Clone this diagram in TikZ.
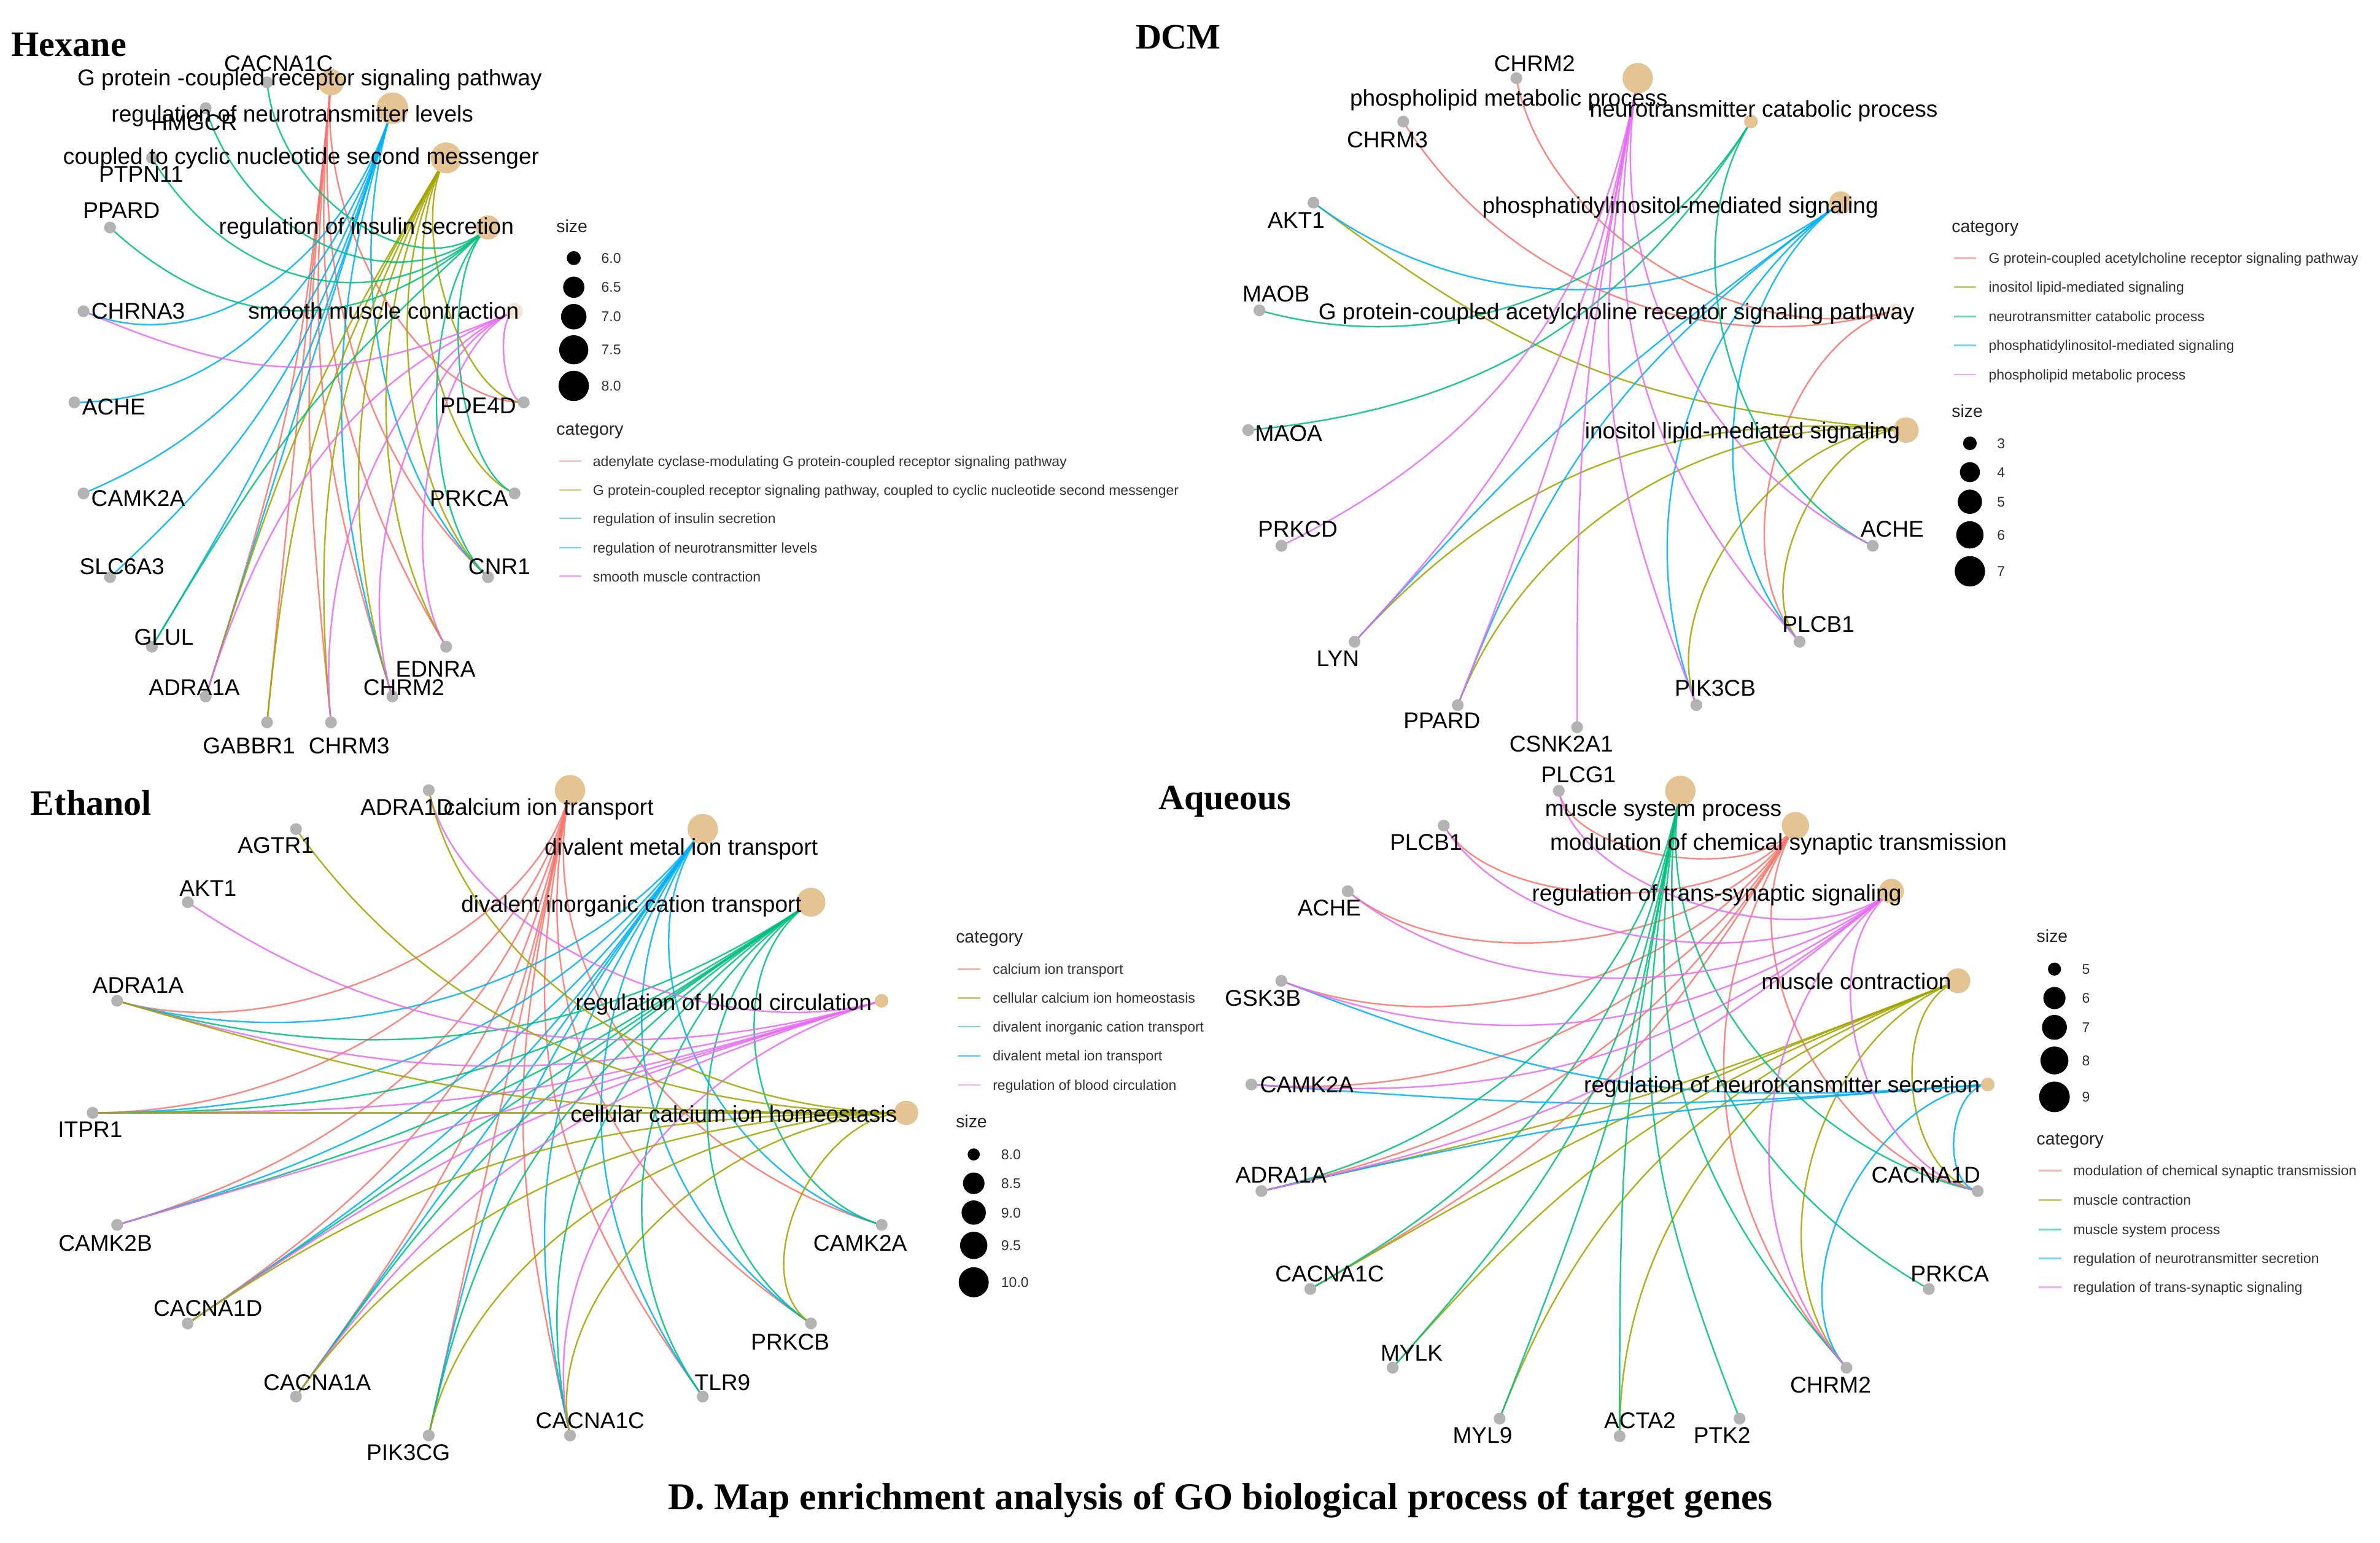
\documentclass[tikz,border=0pt]{standalone}
\usepackage{fontspec}
\setmainfont{Liberation Serif}
\setsansfont{Liberation Sans}
\usetikzlibrary{calc}
\pgfdeclarelayer{base}
\pgfdeclarelayer{bg}
\pgfsetlayers{base,bg,main}
\definecolor{cR}{HTML}{F8766D}
\definecolor{cO}{HTML}{A3A500}
\definecolor{cG}{HTML}{00BF7D}
\definecolor{cB}{HTML}{00B0F6}
\definecolor{cP}{HTML}{E76BF3}
\definecolor{gcol}{HTML}{B3B3B3}
\definecolor{tcol}{HTML}{E5C494}
\newcommand\setpanel[6]{\def\pcx{#1}\def\pcy{#2}\def\prx{#3}\def\pry{#4}\def\poff{#5}\def\pstep{#6}}
\newcommand\gnode[2]{%
  \pgfmathsetmacro\nodeang{\poff+(#2)*\pstep}%
  \expandafter\xdef\csname ang-#1\endcsname{\nodeang}%
  \node[genedot] (#1) at ({\pcx+\prx*cos(\nodeang)},{\pcy+\pry*sin(\nodeang)}) {};}
\newcommand\tnode[4][]{%
  \pgfmathsetmacro\nodeang{\poff+(#3)*\pstep}%
  \expandafter\xdef\csname ang-#2\endcsname{\nodeang}%
  \node[termdot,minimum size={2*#4*1pt},#1] (#2) at ({\pcx+\prx*cos(\nodeang)},{\pcy+\pry*sin(\nodeang)}) {};}
\newcommand\cedge[4]{%
  \edef\cnA{\csname ang-#2\endcsname}%
  \edef\cnB{\csname ang-#3\endcsname}%
  \pgfmathsetmacro\cnD{abs(\cnA-\cnB)}%
  \pgfmathsetmacro\cnK{\cnD>180?(360-\cnD)/180:\cnD/180}%
  \draw[cnline,#4] (#2.center) .. controls ($(#2.center)!\cnK!(#1)$) and ($(#3.center)!\cnK!(#1)$) .. (#3.center);}
\newcommand\glabel[4]{\node[glab] (#1l) at (#2,#3) {#4};}
\tikzset{
 genedot/.style={circle,fill=gcol,draw=none,inner sep=0pt,minimum size=7.8pt},
 termdot/.style={circle,fill=tcol,draw=none,inner sep=0pt},
 paleterm/.style={fill=tcol!40},
 cnline/.style={line width=1pt,opacity=0.85},
 glab/.style={anchor=base,inner sep=0pt,yshift=-5.3pt,font=\sffamily\fontsize{15}{15}\selectfont},
 legtxt/.style={anchor=base west,inner sep=0pt,yshift=-3.3pt,font=\sffamily\fontsize{9.3}{10}\selectfont,text=black!80},
 legtitle/.style={anchor=base west,inner sep=0pt,yshift=-4pt,font=\sffamily\fontsize{11.5}{12}\selectfont,text=black!85},
 legline/.style={line width=1.1pt,opacity=0.55},
 legdot/.style={circle,fill=black,draw=none,inner sep=0pt},
 ptitle/.style={anchor=base west,inner sep=0pt,font=\rmfamily\bfseries\fontsize{23.5}{24}\selectfont},
 btitle/.style={anchor=base,inner sep=0pt,font=\rmfamily\bfseries\fontsize{25}{26}\selectfont},
}
\begin{document}
\begin{tikzpicture}[x=1pt,y=-1pt]
\begin{pgfonlayer}{base}
\path[use as bounding box,fill=white] (0,0) rectangle (1568,1016);
\end{pgfonlayer}

%================ HEXANE =================
\setpanel{197}{265}{148}{213}{0}{360/22}
\coordinate (hc) at (197,265);
\gnode{hPDE4D}{0}\gnode{hPRKCA}{1}\gnode{hCNR1}{2}\gnode{hEDNRA}{3}\gnode{hCHRM2}{4}
\gnode{hCHRM3}{5}\gnode{hGABBR1}{6}\gnode{hADRA1A}{7}\gnode{hGLUL}{8}\gnode{hSLC6A3}{9}
\gnode{hCAMK2A}{10}\gnode{hACHE}{11}\gnode{hCHRNA3}{12}\gnode{hPPARD}{13}\gnode{hPTPN11}{14}
\gnode{hHMGCR}{15}\gnode{hCACNA1C}{16}
\tnode{hAdc}{17}{8.6}\tnode{hNtl}{18}{10.4}\tnode{hCyc}{19}{10.2}\tnode{hIns}{20}{8}\tnode[paleterm]{hSmc}{21}{5.5}
\begin{pgfonlayer}{bg}
\foreach \g in {hADRA1A,hCHRM2,hCHRM3,hCNR1,hEDNRA,hGABBR1,hPDE4D}{\cedge{hc}{hAdc}{\g}{cR}}
\foreach \g in {hACHE,hCAMK2A,hSLC6A3,hGLUL,hCHRNA3,hCNR1,hCHRM2,hADRA1A}{\cedge{hc}{hNtl}{\g}{cB}}
\foreach \g in {hGABBR1,hPDE4D,hPRKCA,hCNR1,hCHRM2,hCHRM3,hADRA1A,hEDNRA}{\cedge{hc}{hCyc}{\g}{cO}}
\foreach \g in {hPPARD,hPTPN11,hHMGCR,hCACNA1C,hCNR1,hPRKCA,hGLUL}{\cedge{hc}{hIns}{\g}{cG}}
\foreach \g in {hCHRNA3,hPDE4D,hEDNRA,hCHRM3,hADRA1A,hCHRM2}{\cedge{hc}{hSmc}{\g}{cP}}
\end{pgfonlayer}
\glabel{hCACNA1C}{183.5}{42}{CACNA1C}
\glabel{hHMGCR}{128}{80.6}{HMGCR}
\glabel{hPTPN11}{93}{114.5}{PTPN11}
\glabel{hPPARD}{80}{138.6}{PPARD}
\glabel{hCHRNA3}{91}{205}{CHRNA3}
\glabel{hACHE}{75}{268}{ACHE}
\glabel{hCAMK2A}{91}{328}{CAMK2A}
\glabel{hSLC6A3}{80.4}{373}{SLC6A3}
\glabel{hGLUL}{108}{419.5}{GLUL}
\glabel{hADRA1A}{128}{452.7}{ADRA1A}
\glabel{hGABBR1}{164}{491}{GABBR1}
\glabel{hCHRM3}{230}{491}{CHRM3}
\glabel{hCHRM2}{266}{452.7}{CHRM2}
\glabel{hEDNRA}{287}{440.5}{EDNRA}
\glabel{hCNR1}{329}{373}{CNR1}
\glabel{hPRKCA}{309}{328}{PRKCA}
\glabel{hPDE4D}{315}{267}{PDE4D}
\glabel{hAdc}{204}{51}{G protein -coupled receptor signaling pathway}
\glabel{hNtl}{192.6}{75}{regulation of neurotransmitter levels}
\glabel{hCyc}{198.4}{103}{coupled to cyclic nucleotide second messenger}
\glabel{hIns}{241.4}{149}{regulation of insulin secretion}
\glabel{hSmc}{252.7}{205}{smooth muscle contraction}
\node[ptitle] (tHex) at (7.4,37) {Hexane};
% legend
\node[legtitle] (hsz) at (366.4,149) {size};
\foreach \yy/\rr/\lb [count=\i] in {170/4.6/6.0,189.2/7/6.5,208.6/8.4/7.0,230.4/9.6/7.5,254.2/10/8.0}{
  \node[legdot,minimum size={2*\rr*1pt}] (hsd\i) at (378,\yy) {};
  \node[legtxt] (hsl\i) at (396,\yy) {\lb};}
\node[legtitle] (hcat) at (366.4,282.4) {category};
\foreach \yy/\cc/\lt [count=\i] in {303.7/cR/{adenylate cyclase-modulating G protein-coupled receptor signaling pathway},322.7/cO/{G protein-coupled receptor signaling pathway, coupled to cyclic nucleotide second messenger},341.4/cG/{regulation of insulin secretion},360.7/cB/{regulation of neurotransmitter levels},379.7/cP/{smooth muscle contraction}}{
  \draw[legline,\cc] (368.3,\yy) -- (383,\yy);
  \node[legtxt] (hct\i) at (390.4,\yy) {\lt};}

%================ DCM =================
\setpanel{1039}{263.4}{217.6}{215.6}{90}{360/17}
\coordinate (dc) at (1039,263.4);
\gnode{dCSNK2A1}{0}\gnode{dPPARD}{1}\gnode{dLYN}{2}\gnode{dPRKCD}{3}\gnode{dMAOA}{4}
\gnode{dMAOB}{5}\gnode{dAKT1}{6}\gnode{dCHRM3}{7}\gnode{dCHRM2}{8}
\tnode{dPl}{9}{10}\tnode{dCat}{10}{4.5}\tnode{dPtd}{11}{7.5}\tnode[paleterm]{dAch}{12}{4.5}\tnode{dIno}{13}{8.4}
\gnode{dACHE}{14}\gnode{dPLCB1}{15}\gnode{dPIK3CB}{16}
\begin{pgfonlayer}{bg}
\foreach \g in {dCHRM2,dCHRM3,dPLCB1}{\cedge{dc}{dAch}{\g}{cR}}
\foreach \g in {dAKT1,dLYN,dPPARD,dPIK3CB,dPLCB1}{\cedge{dc}{dIno}{\g}{cO}}
\foreach \g in {dMAOB,dMAOA,dACHE}{\cedge{dc}{dCat}{\g}{cG}}
\foreach \g in {dAKT1,dLYN,dPPARD,dPIK3CB,dPLCB1}{\cedge{dc}{dPtd}{\g}{cB}}
\foreach \g in {dPRKCD,dLYN,dPPARD,dCSNK2A1,dPIK3CB,dPLCB1,dACHE}{\cedge{dc}{dPl}{\g}{cP}}
\end{pgfonlayer}
\glabel{dCHRM2}{1011}{42}{CHRM2}
\glabel{dCHRM3}{914}{92}{CHRM3}
\glabel{dAKT1}{854}{145}{AKT1}
\glabel{dMAOB}{840.7}{193.4}{MAOB}
\glabel{dMAOA}{849}{285.3}{MAOA}
\glabel{dPRKCD}{855}{348.2}{PRKCD}
\glabel{dLYN}{881.4}{433.6}{LYN}
\glabel{dPPARD}{950}{474.6}{PPARD}
\glabel{dCSNK2A1}{1028.6}{490}{CSNK2A1}
\glabel{dPIK3CB}{1130}{453}{PIK3CB}
\glabel{dPLCB1}{1198}{411}{PLCB1}
\glabel{dACHE}{1246.6}{348.2}{ACHE}
\glabel{dPl}{994}{64.5}{phospholipid metabolic process}
\glabel{dCat}{1162}{71.6}{neurotransmitter catabolic process}
\glabel{dPtd}{1107}{135.4}{phosphatidylinositol-mediated signaling}
\glabel{dAch}{1065}{205.4}{G protein-coupled acetylcholine receptor signaling pathway}
\glabel{dIno}{1148}{283.7}{inositol lipid-mediated signaling}
\node[ptitle] (tDcm) at (748,32.2) {DCM};
\node[legtitle] (dcat) at (1285.6,149) {category};
\foreach \yy/\cc/\lt [count=\i] in {170/cR/{G protein-coupled acetylcholine receptor signaling pathway},189.2/cO/{inositol lipid-mediated signaling},208.5/cG/{neurotransmitter catabolic process},227.4/cB/{phosphatidylinositol-mediated signaling},246.7/cP/{phospholipid metabolic process}}{
  \draw[legline,\cc] (1287.5,\yy) -- (1302,\yy);
  \node[legtxt] (dct\i) at (1310,\yy) {\lt};}
\node[legtitle] (dsz) at (1285.6,270.7) {size};
\foreach \yy/\rr/\lb [count=\i] in {292/4.5/3,311/6.6/4,330.5/8/5,352.3/9/6,376.3/10/7}{
  \node[legdot,minimum size={2*\rr*1pt}] (dsd\i) at (1297.8,\yy) {};
  \node[legtxt] (dsl\i) at (1315.6,\yy) {\lb};}

%================ ETHANOL =================
\setpanel{329}{733}{268}{215.8}{0}{20}
\coordinate (ec) at (329,733);
\tnode{eCch}{0}{8}
\gnode{eCAMK2A}{1}\gnode{ePRKCB}{2}\gnode{eTLR9}{3}\gnode{eCACNA1C}{4}\gnode{ePIK3CG}{5}
\gnode{eCACNA1A}{6}\gnode{eCACNA1D}{7}\gnode{eCAMK2B}{8}\gnode{eITPR1}{9}\gnode{eADRA1A}{10}
\gnode{eAKT1}{11}\gnode{eAGTR1}{12}\gnode{eADRA1D}{13}
\tnode{eCit}{14}{10}\tnode{eDmt}{15}{10}\tnode{eDic}{16}{9.5}\tnode{eBc}{17}{4.5}
\begin{pgfonlayer}{bg}
\foreach \g in {eADRA1A,eITPR1,eCAMK2B,eCACNA1D,eCACNA1A,ePIK3CG,eCACNA1C,eTLR9,ePRKCB,eCAMK2A}{\cedge{ec}{eCit}{\g}{cR}}
\foreach \g in {eADRA1A,eITPR1,eCAMK2B,eCACNA1D,eCACNA1A,ePIK3CG,eCACNA1C,eTLR9,ePRKCB,eCAMK2A}{\cedge{ec}{eDmt}{\g}{cB}}
\foreach \g in {eADRA1A,eITPR1,eCAMK2B,eCACNA1D,eCACNA1A,ePIK3CG,eCACNA1C,eTLR9,ePRKCB,eCAMK2A}{\cedge{ec}{eDic}{\g}{cG}}
\foreach \g in {eADRA1D,eAKT1,eADRA1A,eITPR1,eCAMK2B,eCACNA1A,eCACNA1C,eCACNA1D}{\cedge{ec}{eBc}{\g}{cP}}
\foreach \g in {eADRA1D,eAGTR1,eADRA1A,eITPR1,eCACNA1D,eCACNA1A,ePIK3CG,eCACNA1C,ePRKCB}{\cedge{ec}{eCch}{\g}{cO}}
\end{pgfonlayer}
\glabel{eADRA1D}{268}{531.5}{ADRA1D}
\glabel{eAGTR1}{181.7}{556.8}{AGTR1}
\glabel{eAKT1}{137}{584.8}{AKT1}
\glabel{eADRA1A}{91}{649}{ADRA1A}
\glabel{eITPR1}{59.4}{744}{ITPR1}
\glabel{eCAMK2B}{69.4}{818.6}{CAMK2B}
\glabel{eCACNA1D}{137}{861.8}{CACNA1D}
\glabel{eCACNA1A}{209}{910.5}{CACNA1A}
\glabel{ePIK3CG}{269}{956.5}{PIK3CG}
\glabel{eCACNA1C}{388.8}{935.8}{CACNA1C}
\glabel{eTLR9}{476}{910.5}{TLR9}
\glabel{ePRKCB}{520.6}{884}{PRKCB}
\glabel{eCAMK2A}{566.7}{818.6}{CAMK2A}
\glabel{eCit}{361.4}{531.5}{calcium ion transport}
\glabel{eDmt}{448.8}{557.7}{divalent metal ion transport}
\glabel{eDic}{416}{595.5}{divalent inorganic cation transport}
\glabel{eBc}{476.8}{660.3}{regulation of blood circulation}
\glabel{eCch}{483.4}{734}{cellular calcium ion homeostasis}
\node[ptitle] (tEth) at (20,537) {Ethanol};
\node[legtitle] (ecat) at (629.6,617) {category};
\foreach \yy/\cc/\lt [count=\i] in {638.3/cR/{calcium ion transport},657.3/cO/{cellular calcium ion homeostasis},676.2/cG/{divalent inorganic cation transport},695.4/cB/{divalent metal ion transport},714.6/cP/{regulation of blood circulation}}{
  \draw[legline,\cc] (631,\yy) -- (646,\yy);
  \node[legtxt] (ect\i) at (653.9,\yy) {\lt};}
\node[legtitle] (esz) at (629.6,738.6) {size};
\foreach \yy/\rr/\lb [count=\i] in {760.4/4/8.0,779.4/7.1/8.5,798.7/8/9.0,820.3/9/9.5,844.6/9.9/10.0}{
  \node[legdot,minimum size={2*\rr*1pt}] (esd\i) at (641.5,\yy) {};
  \node[legtxt] (esl\i) at (659.4,\yy) {\lb};}

%================ AQUEOUS =================
\setpanel{1067}{732}{243.4}{214}{90}{360/19}
\coordinate (ac) at (1067,732);
\gnode{aACTA2}{0}\gnode{aMYL9}{1}\gnode{aMYLK}{2}\gnode{aCACNA1C}{3}\gnode{aADRA1A}{4}
\gnode{aCAMK2A}{5}\gnode{aGSK3B}{6}\gnode{aACHE}{7}\gnode{aPLCB1}{8}\gnode{aPLCG1}{9}
\tnode{aMsp}{10}{10}\tnode{aMod}{11}{9}\tnode{aTs}{12}{8.2}\tnode{aMc}{13}{8.2}\tnode{aNs}{14}{4.5}
\gnode{aCACNA1D}{15}\gnode{aPRKCA}{16}\gnode{aCHRM2}{17}\gnode{aPTK2}{18}
\begin{pgfonlayer}{bg}
\foreach \g in {aPLCG1,aPLCB1,aACHE,aGSK3B,aCAMK2A,aADRA1A,aCHRM2,aCACNA1D,aCACNA1C}{\cedge{ac}{aMod}{\g}{cR}}
\foreach \g in {aADRA1A,aCACNA1C,aMYLK,aMYL9,aACTA2,aCHRM2,aCACNA1D}{\cedge{ac}{aMc}{\g}{cO}}
\foreach \g in {aADRA1A,aCACNA1C,aMYLK,aMYL9,aACTA2,aPTK2,aCHRM2,aPRKCA,aCACNA1D}{\cedge{ac}{aMsp}{\g}{cG}}
\foreach \g in {aGSK3B,aCAMK2A,aADRA1A,aCHRM2,aCACNA1D}{\cedge{ac}{aNs}{\g}{cB}}
\foreach \g in {aPLCG1,aPLCB1,aACHE,aGSK3B,aCAMK2A,aADRA1A,aCHRM2,aCACNA1D}{\cedge{ac}{aTs}{\g}{cP}}
\end{pgfonlayer}
\glabel{aPLCG1}{1040}{510.2}{PLCG1}
\glabel{aPLCB1}{939.5}{554.7}{PLCB1}
\glabel{aACHE}{875.8}{598}{ACHE}
\glabel{aGSK3B}{832}{657.2}{GSK3B}
\glabel{aCAMK2A}{861}{714.5}{CAMK2A}
\glabel{aADRA1A}{844}{773.9}{ADRA1A}
\glabel{aCACNA1C}{876}{839}{CACNA1C}
\glabel{aMYLK}{930}{891}{MYLK}
\glabel{aMYL9}{976.7}{945.5}{MYL9}
\glabel{aACTA2}{1080.4}{935.8}{ACTA2}
\glabel{aPTK2}{1134.5}{945.5}{PTK2}
\glabel{aCHRM2}{1206}{912}{CHRM2}
\glabel{aPRKCA}{1284.6}{839}{PRKCA}
\glabel{aCACNA1D}{1268.8}{773.9}{CACNA1D}
\glabel{aMsp}{1095.8}{532.5}{muscle system process}
\glabel{aMod}{1171.7}{554.7}{modulation of chemical synaptic transmission}
\glabel{aTs}{1131}{588.2}{regulation of trans-synaptic signaling}
\glabel{aMc}{1223}{646.6}{muscle contraction}
\glabel{aNs}{1174}{714.5}{regulation of neurotransmitter secretion}
\node[ptitle] (tAq) at (763,533.4) {Aqueous};
\node[legtitle] (asz) at (1341.6,616.7) {size};
\foreach \yy/\rr/\lb [count=\i] in {638.3/4.3/5,657.4/7.3/6,676.7/8.2/7,698.5/9.2/8,722.5/10.1/9}{
  \node[legdot,minimum size={2*\rr*1pt}] (asd\i) at (1353.5,\yy) {};
  \node[legtxt] (asl\i) at (1371.5,\yy) {\lb};}
\node[legtitle] (acat) at (1341.6,750) {category};
\foreach \yy/\cc/\lt [count=\i] in {771/cR/{modulation of chemical synaptic transmission},790.4/cO/{muscle contraction},809.8/cG/{muscle system process},828.8/cB/{regulation of neurotransmitter secretion},847.8/cP/{regulation of trans-synaptic signaling}}{
  \draw[legline,\cc] (1343,\yy) -- (1358,\yy);
  \node[legtxt] (act\i) at (1365.8,\yy) {\lt};}

%================ CAPTION =================
\node[btitle] (cap) at (804,994.3) {D. Map enrichment analysis of GO biological process of target genes};
\end{tikzpicture}
\end{document}
